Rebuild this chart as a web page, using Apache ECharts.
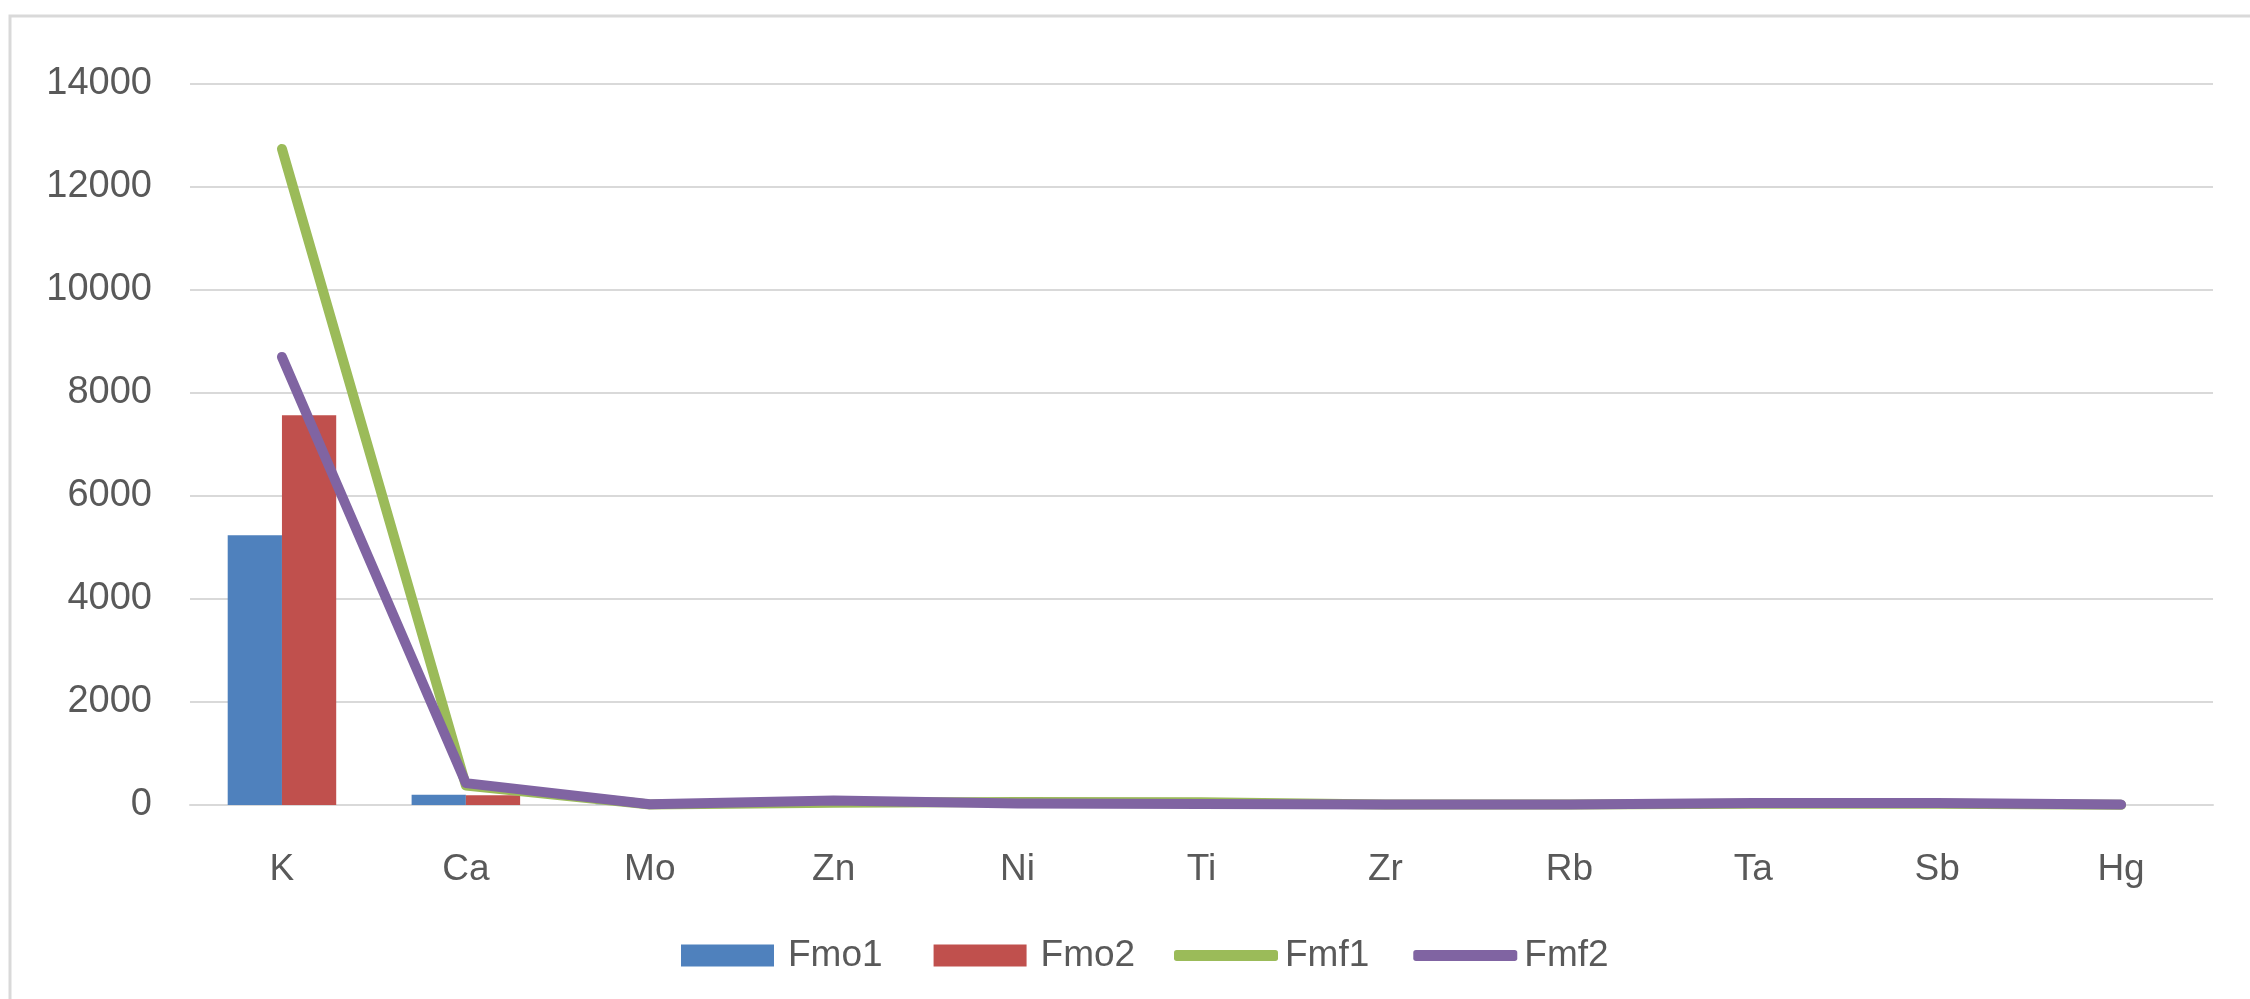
<!DOCTYPE html>
<html>
<head>
<meta charset="utf-8">
<script src="https://cdn.jsdelivr.net/npm/echarts@6/dist/echarts.min.js"></script>
<style>
  html, body { margin: 0; padding: 0; background: #ffffff; }
  #chart { width: 2250px; height: 999px; }
</style>
</head>
<body>
<div id="chart"></div>
<script>
const categories = ['K', 'Ca', 'Mo', 'Zn', 'Ni', 'Ti', 'Zr', 'Rb', 'Ta', 'Sb', 'Hg'];
const fmo1 = [5240, 200, 5, 8, 6, 5, 3, 2, 4, 5, 1];
const fmo2 = [7570, 190, 4, 10, 5, 4, 3, 2, 4, 4, 1];
const fmf1 = [12740, 380, 10, 45, 60, 55, 12, 8, 25, 25, 3];
const fmf2 = [8700, 425, 15, 85, 30, 20, 8, 12, 40, 40, 8];
const yTicks = { min: 0, max: 14000, interval: 2000 };

const FONT = 'Liberation Sans';
const TXT = '#595959';

const chart = echarts.init(document.getElementById('chart'), null, { renderer: 'canvas' });
chart.setOption({
  backgroundColor: '#ffffff',
  animation: false,
  graphic: [{
    type: 'rect',
    shape: { x: 10, y: 16, width: 2400, height: 1200 },
    style: { fill: 'none', stroke: '#d9d9d9', lineWidth: 3 },
    silent: true, z: -10
  }],
  grid: { left: 190, right: 37, top: 84, bottom: 194, containLabel: false },
  legend: [{
    data: ['Fmo1', 'Fmo2'],
    left: 676, top: 932,
    itemWidth: 93, itemHeight: 22, itemGap: 51,
    icon: 'rect',
    textStyle: { fontFamily: FONT, fontSize: 37, color: TXT, padding: [0, 0, 0, 9] }
  }, {
    data: [
      { name: 'Fmf1', icon: 'roundRect', itemStyle: { color: '#9bbb59' } },
      { name: 'Fmf2', icon: 'roundRect', itemStyle: { color: '#8064a2' } }
    ],
    left: 1169, top: 932,
    itemWidth: 104, itemHeight: 11, itemGap: 44,
    textStyle: { fontFamily: FONT, fontSize: 37, color: TXT, padding: [0, 0, 0, 2] }
  }],
  xAxis: {
    type: 'category',
    data: categories,
    axisLine: { show: true, lineStyle: { color: '#d9d9d9', width: 2 } },
    axisTick: { show: false },
    axisLabel: { fontFamily: FONT, fontSize: 37, color: TXT, margin: 46 }
  },
  yAxis: {
    type: 'value',
    min: yTicks.min, max: yTicks.max, interval: yTicks.interval,
    axisLine: { show: false },
    axisTick: { show: false },
    splitLine: { lineStyle: { color: '#d9d9d9', width: 2 } },
    axisLabel: { fontFamily: FONT, fontSize: 38, color: TXT, margin: 38, formatter: v => String(v) }
  },
  series: [{
    name: 'Fmo1', type: 'bar', data: fmo1,
    itemStyle: { color: '#4f81bd' },
    barGap: '0%', barCategoryGap: '41%'
  }, {
    name: 'Fmo2', type: 'bar', data: fmo2,
    itemStyle: { color: '#c0504d' },
    barGap: '0%', barCategoryGap: '41%'
  }, {
    name: 'Fmf1', type: 'line', data: fmf1,
    symbol: 'none', showSymbol: false,
    itemStyle: { color: '#9bbb59' },
    lineStyle: { color: '#9bbb59', width: 10, cap: 'round', join: 'round' }
  }, {
    name: 'Fmf2', type: 'line', data: fmf2,
    symbol: 'none', showSymbol: false,
    itemStyle: { color: '#8064a2' },
    lineStyle: { color: '#8064a2', width: 10, cap: 'round', join: 'round' }
  }]
});
</script>
</body>
</html>
